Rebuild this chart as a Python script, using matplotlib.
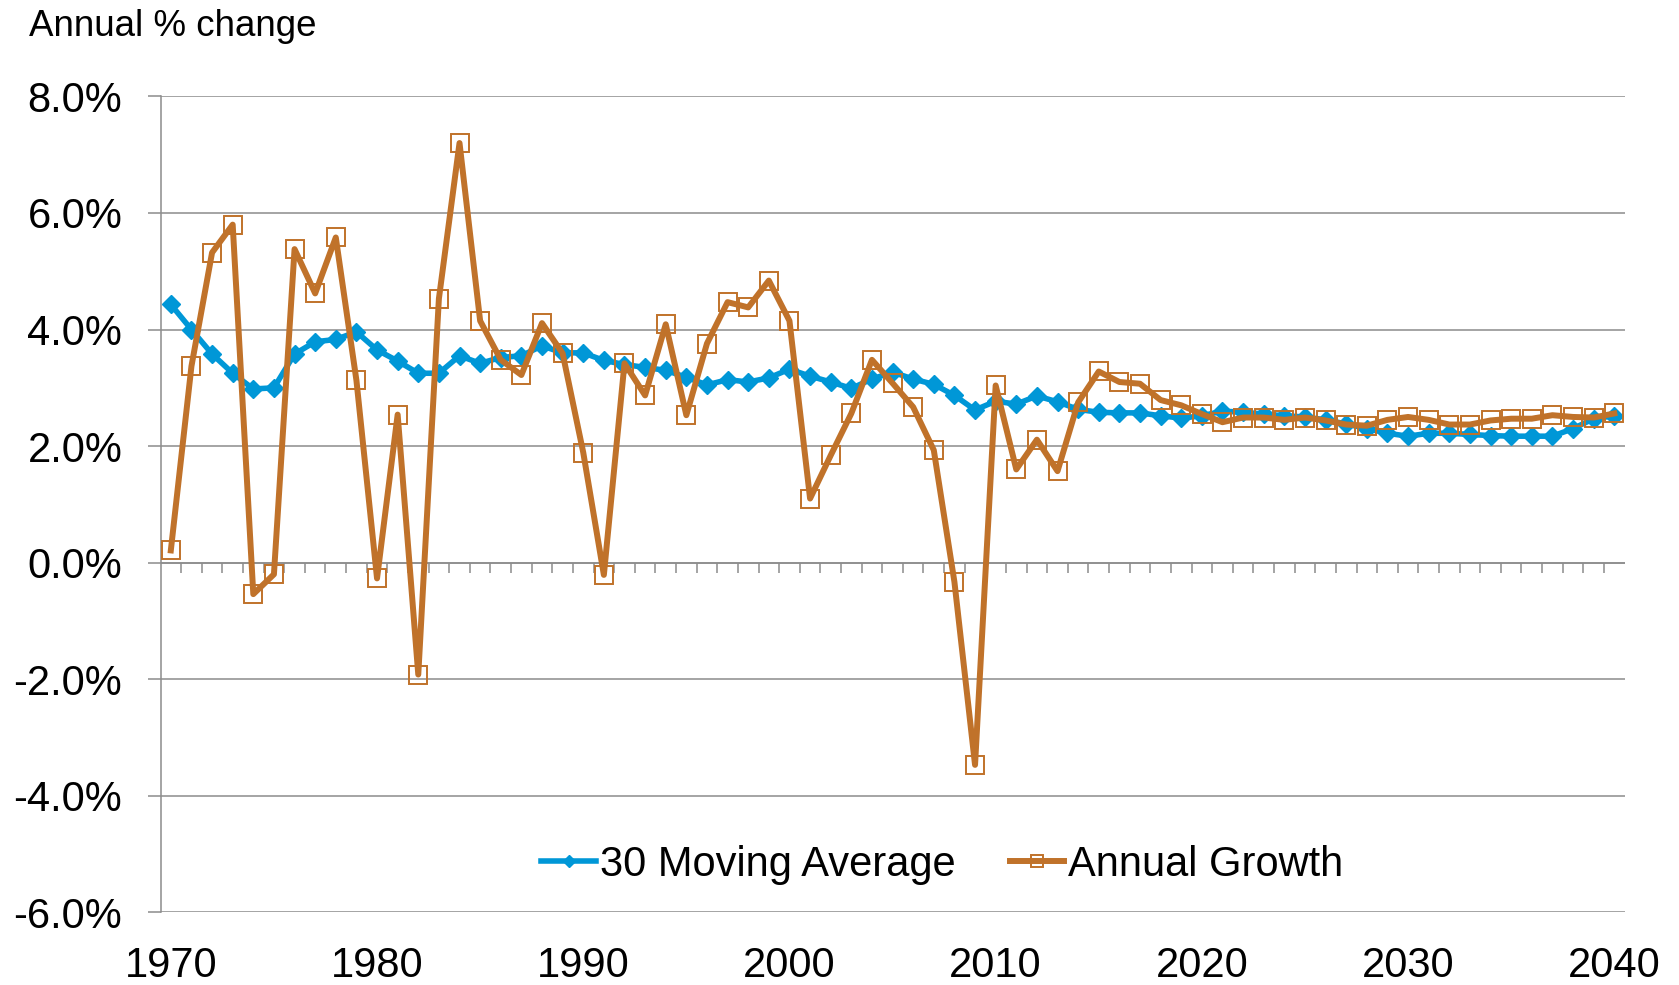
import matplotlib
matplotlib.use("Agg")
import matplotlib.pyplot as plt
from matplotlib.ticker import FixedLocator, FuncFormatter

plt.rcParams["font.family"] = ["Liberation Sans", "DejaVu Sans"]

# ---- data ----
years = list(range(1970, 2041))

annual_growth = [
    0.21, 3.37, 5.32, 5.80, -0.54, -0.20, 5.38, 4.62, 5.58, 3.13,
    -0.27, 2.54, -1.92, 4.53, 7.20, 4.15, 3.48, 3.22, 4.11, 3.59,
    1.89, -0.21, 3.42, 2.87, 4.09, 2.53, 3.76, 4.47, 4.38, 4.84,
    4.15, 1.10, 1.84, 2.56, 3.48, 3.08, 2.67, 1.93, -0.33, -3.47,
    3.04, 1.60, 2.11, 1.57, 2.75, 3.28, 3.10, 3.07, 2.79, 2.70,
    2.55, 2.41, 2.49, 2.49, 2.45, 2.49, 2.44, 2.37, 2.35, 2.45,
    2.50, 2.45, 2.37, 2.37, 2.44, 2.47, 2.47, 2.53, 2.50, 2.49,
    2.56,
]

moving_avg = [
    4.43, 4.00, 3.58, 3.25, 2.98, 3.00, 3.58, 3.79, 3.83, 3.96,
    3.65, 3.46, 3.25, 3.25, 3.55, 3.42, 3.52, 3.55, 3.72, 3.60,
    3.60, 3.47, 3.40, 3.35, 3.30, 3.18, 3.05, 3.14, 3.10, 3.17,
    3.32, 3.20, 3.10, 2.99, 3.15, 3.27, 3.15, 3.06, 2.87, 2.62,
    2.77, 2.72, 2.86, 2.76, 2.63, 2.58, 2.57, 2.57, 2.52, 2.48,
    2.52, 2.60, 2.58, 2.55, 2.52, 2.50, 2.45, 2.38, 2.30, 2.22,
    2.17, 2.22, 2.22, 2.20, 2.18, 2.17, 2.17, 2.17, 2.30, 2.47,
    2.52,
]

y_ticks = [-6, -4, -2, 0, 2, 4, 6, 8]
x_labels = ["1970", "1980", "1990", "2000", "2010", "2020", "2030", "2040"]

BLUE = "#0097D7"
BROWN = "#C0722A"
GRID = "#8C8C8C"

fig = plt.figure(figsize=(16.79, 9.85), dpi=100)
ax = fig.add_axes([0.0956, 0.0738, 0.872, 0.8283])

ax.plot(years, moving_avg, color=BLUE, lw=4.0, marker="D", ms=9.5,
        mec=BLUE, mfc=BLUE, label="30 Moving Average", zorder=3)
ax.plot(years, annual_growth, color=BROWN, lw=4.3, marker="s", ms=13.5,
        mec=BROWN, mfc="none", mew=1.4, label="Annual Growth", zorder=4)

ax.set_xlim(years[0] - 0.5, years[-1] + 0.5)
ax.set_ylim(y_ticks[0], y_ticks[-1])

# y axis: gridlines + outward ticks on the left
ax.yaxis.set_major_locator(FixedLocator(y_ticks))
ax.yaxis.set_major_formatter(FuncFormatter(lambda v, p: f"{v:.1f}%"))
ax.grid(axis="y", color=GRID, lw=1.1)
ax.set_axisbelow(True)
ax.tick_params(axis="y", direction="out", length=9.5, width=1.1,
               color=GRID, labelsize=30, pad=18)

for side in ("top", "right", "bottom"):
    ax.spines[side].set_visible(False)
ax.spines["left"].set_color(GRID)
ax.spines["left"].set_linewidth(1.1)

# year labels under the plot area, centred on their category
ax.set_xticks([int(t) for t in x_labels], x_labels)
ax.tick_params(axis="x", length=0, labelsize=30, pad=24)

# category axis crossing at 0% with a small tick between every year
ax.axhline(0, color=GRID, lw=1.1, zorder=1)
ax.vlines([y + 0.5 for y in years[:-1]], -0.17, 0, color=GRID, lw=1.1, zorder=1)

ax.legend(loc="center", bbox_to_anchor=(0.534, 0.058), ncol=2, frameon=False,
          fontsize=30, handlelength=1.3, handletextpad=0.1, columnspacing=1.3,
          borderaxespad=0, markerscale=0.6)

fig.text(0.017, 0.973, "Annual % change", fontsize=26.5, ha="left", va="center")

fig.savefig("out.png", dpi=100, facecolor="white")
